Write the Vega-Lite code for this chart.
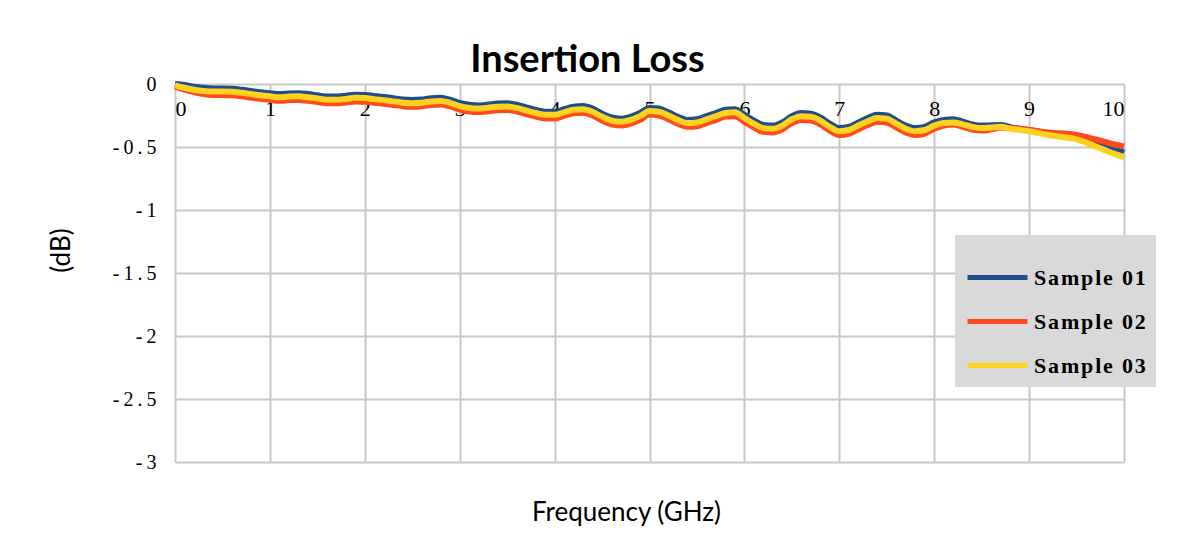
{
"$schema": "https://vega.github.io/schema/vega-lite/v6.json",
"width": 949, "height": 378,
"autosize": {"type": "none"},
"padding": {"left": 175, "top": 84, "right": 55, "bottom": 92},
"background": "white",
"config": {"view": {"stroke": null}},
"title": {"text": "Insertion Loss", "font": "Lato", "fontSize": 38, "fontWeight": "bold", "color": "black", "anchor": "middle", "dx": -62, "offset": -8},
"data": {"values": [
{"s":"Sample 01","f":0,"db":0.000},{"s":"Sample 01","f":0.1,"db":-0.008},{"s":"Sample 01","f":0.2,"db":-0.022},{"s":"Sample 01","f":0.3,"db":-0.030},{"s":"Sample 01","f":0.4,"db":-0.035},{"s":"Sample 01","f":0.5,"db":-0.035},{"s":"Sample 01","f":0.6,"db":-0.037},{"s":"Sample 01","f":0.7,"db":-0.045},{"s":"Sample 01","f":0.8,"db":-0.055},{"s":"Sample 01","f":0.9,"db":-0.065},
{"s":"Sample 01","f":1.0,"db":-0.073},{"s":"Sample 01","f":1.1,"db":-0.080},{"s":"Sample 01","f":1.2,"db":-0.075},{"s":"Sample 01","f":1.3,"db":-0.073},{"s":"Sample 01","f":1.4,"db":-0.080},{"s":"Sample 01","f":1.5,"db":-0.090},{"s":"Sample 01","f":1.6,"db":-0.100},{"s":"Sample 01","f":1.7,"db":-0.100},{"s":"Sample 01","f":1.8,"db":-0.093},{"s":"Sample 01","f":1.9,"db":-0.085},
{"s":"Sample 01","f":2.0,"db":-0.087},{"s":"Sample 01","f":2.1,"db":-0.095},{"s":"Sample 01","f":2.2,"db":-0.103},{"s":"Sample 01","f":2.3,"db":-0.113},{"s":"Sample 01","f":2.4,"db":-0.123},{"s":"Sample 01","f":2.5,"db":-0.127},{"s":"Sample 01","f":2.6,"db":-0.123},{"s":"Sample 01","f":2.7,"db":-0.113},{"s":"Sample 01","f":2.8,"db":-0.110},{"s":"Sample 01","f":2.9,"db":-0.125},
{"s":"Sample 01","f":3.0,"db":-0.150},{"s":"Sample 01","f":3.1,"db":-0.165},{"s":"Sample 01","f":3.2,"db":-0.170},{"s":"Sample 01","f":3.3,"db":-0.163},{"s":"Sample 01","f":3.4,"db":-0.155},{"s":"Sample 01","f":3.5,"db":-0.153},{"s":"Sample 01","f":3.6,"db":-0.165},{"s":"Sample 01","f":3.7,"db":-0.185},{"s":"Sample 01","f":3.8,"db":-0.205},{"s":"Sample 01","f":3.9,"db":-0.220},
{"s":"Sample 01","f":4.0,"db":-0.220},{"s":"Sample 01","f":4.1,"db":-0.200},{"s":"Sample 01","f":4.2,"db":-0.180},{"s":"Sample 01","f":4.3,"db":-0.175},{"s":"Sample 01","f":4.4,"db":-0.195},{"s":"Sample 01","f":4.5,"db":-0.235},{"s":"Sample 01","f":4.6,"db":-0.265},{"s":"Sample 01","f":4.7,"db":-0.275},{"s":"Sample 01","f":4.8,"db":-0.260},{"s":"Sample 01","f":4.9,"db":-0.230},
{"s":"Sample 01","f":5.0,"db":-0.190},{"s":"Sample 01","f":5.1,"db":-0.195},{"s":"Sample 01","f":5.2,"db":-0.225},{"s":"Sample 01","f":5.3,"db":-0.260},{"s":"Sample 01","f":5.4,"db":-0.285},{"s":"Sample 01","f":5.5,"db":-0.280},{"s":"Sample 01","f":5.6,"db":-0.255},{"s":"Sample 01","f":5.7,"db":-0.230},{"s":"Sample 01","f":5.8,"db":-0.205},{"s":"Sample 01","f":5.9,"db":-0.200},
{"s":"Sample 01","f":6.0,"db":-0.245},{"s":"Sample 01","f":6.1,"db":-0.290},{"s":"Sample 01","f":6.2,"db":-0.325},{"s":"Sample 01","f":6.3,"db":-0.330},{"s":"Sample 01","f":6.4,"db":-0.305},{"s":"Sample 01","f":6.5,"db":-0.255},{"s":"Sample 01","f":6.6,"db":-0.230},{"s":"Sample 01","f":6.7,"db":-0.235},{"s":"Sample 01","f":6.8,"db":-0.265},{"s":"Sample 01","f":6.9,"db":-0.315},
{"s":"Sample 01","f":7.0,"db":-0.350},{"s":"Sample 01","f":7.1,"db":-0.340},{"s":"Sample 01","f":7.2,"db":-0.305},{"s":"Sample 01","f":7.3,"db":-0.270},{"s":"Sample 01","f":7.4,"db":-0.245},{"s":"Sample 01","f":7.5,"db":-0.250},{"s":"Sample 01","f":7.6,"db":-0.290},{"s":"Sample 01","f":7.7,"db":-0.330},{"s":"Sample 01","f":7.8,"db":-0.350},{"s":"Sample 01","f":7.9,"db":-0.340},
{"s":"Sample 01","f":8.0,"db":-0.305},{"s":"Sample 01","f":8.1,"db":-0.285},{"s":"Sample 01","f":8.2,"db":-0.280},{"s":"Sample 01","f":8.3,"db":-0.298},{"s":"Sample 01","f":8.4,"db":-0.320},{"s":"Sample 01","f":8.5,"db":-0.330},{"s":"Sample 01","f":8.6,"db":-0.328},{"s":"Sample 01","f":8.7,"db":-0.325},{"s":"Sample 01","f":8.8,"db":-0.342},{"s":"Sample 01","f":8.9,"db":-0.355},
{"s":"Sample 01","f":9.0,"db":-0.365},{"s":"Sample 01","f":9.1,"db":-0.378},{"s":"Sample 01","f":9.2,"db":-0.392},{"s":"Sample 01","f":9.3,"db":-0.400},{"s":"Sample 01","f":9.4,"db":-0.410},{"s":"Sample 01","f":9.5,"db":-0.425},{"s":"Sample 01","f":9.6,"db":-0.445},{"s":"Sample 01","f":9.7,"db":-0.470},{"s":"Sample 01","f":9.8,"db":-0.495},{"s":"Sample 01","f":9.9,"db":-0.520},{"s":"Sample 01","f":10.0,"db":-0.545},
{"s":"Sample 02","f":0,"db":-0.020},{"s":"Sample 02","f":0.1,"db":-0.045},{"s":"Sample 02","f":0.2,"db":-0.065},{"s":"Sample 02","f":0.3,"db":-0.080},{"s":"Sample 02","f":0.4,"db":-0.087},{"s":"Sample 02","f":0.5,"db":-0.088},{"s":"Sample 02","f":0.6,"db":-0.090},{"s":"Sample 02","f":0.7,"db":-0.098},{"s":"Sample 02","f":0.8,"db":-0.108},{"s":"Sample 02","f":0.9,"db":-0.118},
{"s":"Sample 02","f":1.0,"db":-0.126},{"s":"Sample 02","f":1.1,"db":-0.133},{"s":"Sample 02","f":1.2,"db":-0.128},{"s":"Sample 02","f":1.3,"db":-0.126},{"s":"Sample 02","f":1.4,"db":-0.133},{"s":"Sample 02","f":1.5,"db":-0.143},{"s":"Sample 02","f":1.6,"db":-0.153},{"s":"Sample 02","f":1.7,"db":-0.153},{"s":"Sample 02","f":1.8,"db":-0.146},{"s":"Sample 02","f":1.9,"db":-0.138},
{"s":"Sample 02","f":2.0,"db":-0.140},{"s":"Sample 02","f":2.1,"db":-0.148},{"s":"Sample 02","f":2.2,"db":-0.156},{"s":"Sample 02","f":2.3,"db":-0.166},{"s":"Sample 02","f":2.4,"db":-0.176},{"s":"Sample 02","f":2.5,"db":-0.180},{"s":"Sample 02","f":2.6,"db":-0.176},{"s":"Sample 02","f":2.7,"db":-0.166},{"s":"Sample 02","f":2.8,"db":-0.163},{"s":"Sample 02","f":2.9,"db":-0.178},
{"s":"Sample 02","f":3.0,"db":-0.203},{"s":"Sample 02","f":3.1,"db":-0.218},{"s":"Sample 02","f":3.2,"db":-0.223},{"s":"Sample 02","f":3.3,"db":-0.216},{"s":"Sample 02","f":3.4,"db":-0.208},{"s":"Sample 02","f":3.5,"db":-0.206},{"s":"Sample 02","f":3.6,"db":-0.218},{"s":"Sample 02","f":3.7,"db":-0.238},{"s":"Sample 02","f":3.8,"db":-0.258},{"s":"Sample 02","f":3.9,"db":-0.273},
{"s":"Sample 02","f":4.0,"db":-0.273},{"s":"Sample 02","f":4.1,"db":-0.253},{"s":"Sample 02","f":4.2,"db":-0.233},{"s":"Sample 02","f":4.3,"db":-0.228},{"s":"Sample 02","f":4.4,"db":-0.250},{"s":"Sample 02","f":4.5,"db":-0.290},{"s":"Sample 02","f":4.6,"db":-0.320},{"s":"Sample 02","f":4.7,"db":-0.330},{"s":"Sample 02","f":4.8,"db":-0.315},{"s":"Sample 02","f":4.9,"db":-0.285},
{"s":"Sample 02","f":5.0,"db":-0.243},{"s":"Sample 02","f":5.1,"db":-0.250},{"s":"Sample 02","f":5.2,"db":-0.280},{"s":"Sample 02","f":5.3,"db":-0.315},{"s":"Sample 02","f":5.4,"db":-0.340},{"s":"Sample 02","f":5.5,"db":-0.335},{"s":"Sample 02","f":5.6,"db":-0.310},{"s":"Sample 02","f":5.7,"db":-0.285},{"s":"Sample 02","f":5.8,"db":-0.258},{"s":"Sample 02","f":5.9,"db":-0.255},
{"s":"Sample 02","f":6.0,"db":-0.300},{"s":"Sample 02","f":6.1,"db":-0.345},{"s":"Sample 02","f":6.2,"db":-0.380},{"s":"Sample 02","f":6.3,"db":-0.385},{"s":"Sample 02","f":6.4,"db":-0.360},{"s":"Sample 02","f":6.5,"db":-0.310},{"s":"Sample 02","f":6.6,"db":-0.285},{"s":"Sample 02","f":6.7,"db":-0.290},{"s":"Sample 02","f":6.8,"db":-0.320},{"s":"Sample 02","f":6.9,"db":-0.370},
{"s":"Sample 02","f":7.0,"db":-0.405},{"s":"Sample 02","f":7.1,"db":-0.395},{"s":"Sample 02","f":7.2,"db":-0.360},{"s":"Sample 02","f":7.3,"db":-0.325},{"s":"Sample 02","f":7.4,"db":-0.300},{"s":"Sample 02","f":7.5,"db":-0.305},{"s":"Sample 02","f":7.6,"db":-0.345},{"s":"Sample 02","f":7.7,"db":-0.385},{"s":"Sample 02","f":7.8,"db":-0.405},{"s":"Sample 02","f":7.9,"db":-0.393},
{"s":"Sample 02","f":8.0,"db":-0.355},{"s":"Sample 02","f":8.1,"db":-0.330},{"s":"Sample 02","f":8.2,"db":-0.322},{"s":"Sample 02","f":8.3,"db":-0.340},{"s":"Sample 02","f":8.4,"db":-0.362},{"s":"Sample 02","f":8.5,"db":-0.370},{"s":"Sample 02","f":8.6,"db":-0.360},{"s":"Sample 02","f":8.7,"db":-0.345},{"s":"Sample 02","f":8.8,"db":-0.350},{"s":"Sample 02","f":8.9,"db":-0.357},
{"s":"Sample 02","f":9.0,"db":-0.365},{"s":"Sample 02","f":9.1,"db":-0.375},{"s":"Sample 02","f":9.2,"db":-0.385},{"s":"Sample 02","f":9.3,"db":-0.390},{"s":"Sample 02","f":9.4,"db":-0.395},{"s":"Sample 02","f":9.5,"db":-0.405},{"s":"Sample 02","f":9.6,"db":-0.420},{"s":"Sample 02","f":9.7,"db":-0.440},{"s":"Sample 02","f":9.8,"db":-0.460},{"s":"Sample 02","f":9.9,"db":-0.480},{"s":"Sample 02","f":10.0,"db":-0.495},
{"s":"Sample 03","f":0,"db":-0.010},{"s":"Sample 03","f":0.1,"db":-0.030},{"s":"Sample 03","f":0.2,"db":-0.045},{"s":"Sample 03","f":0.3,"db":-0.055},{"s":"Sample 03","f":0.4,"db":-0.060},{"s":"Sample 03","f":0.5,"db":-0.060},{"s":"Sample 03","f":0.6,"db":-0.062},{"s":"Sample 03","f":0.7,"db":-0.070},{"s":"Sample 03","f":0.8,"db":-0.080},{"s":"Sample 03","f":0.9,"db":-0.090},
{"s":"Sample 03","f":1.0,"db":-0.098},{"s":"Sample 03","f":1.1,"db":-0.105},{"s":"Sample 03","f":1.2,"db":-0.100},{"s":"Sample 03","f":1.3,"db":-0.098},{"s":"Sample 03","f":1.4,"db":-0.105},{"s":"Sample 03","f":1.5,"db":-0.115},{"s":"Sample 03","f":1.6,"db":-0.125},{"s":"Sample 03","f":1.7,"db":-0.125},{"s":"Sample 03","f":1.8,"db":-0.118},{"s":"Sample 03","f":1.9,"db":-0.110},
{"s":"Sample 03","f":2.0,"db":-0.112},{"s":"Sample 03","f":2.1,"db":-0.120},{"s":"Sample 03","f":2.2,"db":-0.128},{"s":"Sample 03","f":2.3,"db":-0.138},{"s":"Sample 03","f":2.4,"db":-0.148},{"s":"Sample 03","f":2.5,"db":-0.152},{"s":"Sample 03","f":2.6,"db":-0.148},{"s":"Sample 03","f":2.7,"db":-0.138},{"s":"Sample 03","f":2.8,"db":-0.135},{"s":"Sample 03","f":2.9,"db":-0.150},
{"s":"Sample 03","f":3.0,"db":-0.175},{"s":"Sample 03","f":3.1,"db":-0.190},{"s":"Sample 03","f":3.2,"db":-0.195},{"s":"Sample 03","f":3.3,"db":-0.188},{"s":"Sample 03","f":3.4,"db":-0.180},{"s":"Sample 03","f":3.5,"db":-0.178},{"s":"Sample 03","f":3.6,"db":-0.190},{"s":"Sample 03","f":3.7,"db":-0.210},{"s":"Sample 03","f":3.8,"db":-0.230},{"s":"Sample 03","f":3.9,"db":-0.245},
{"s":"Sample 03","f":4.0,"db":-0.245},{"s":"Sample 03","f":4.1,"db":-0.225},{"s":"Sample 03","f":4.2,"db":-0.205},{"s":"Sample 03","f":4.3,"db":-0.200},{"s":"Sample 03","f":4.4,"db":-0.220},{"s":"Sample 03","f":4.5,"db":-0.260},{"s":"Sample 03","f":4.6,"db":-0.290},{"s":"Sample 03","f":4.7,"db":-0.300},{"s":"Sample 03","f":4.8,"db":-0.285},{"s":"Sample 03","f":4.9,"db":-0.255},
{"s":"Sample 03","f":5.0,"db":-0.215},{"s":"Sample 03","f":5.1,"db":-0.220},{"s":"Sample 03","f":5.2,"db":-0.250},{"s":"Sample 03","f":5.3,"db":-0.285},{"s":"Sample 03","f":5.4,"db":-0.310},{"s":"Sample 03","f":5.5,"db":-0.305},{"s":"Sample 03","f":5.6,"db":-0.280},{"s":"Sample 03","f":5.7,"db":-0.255},{"s":"Sample 03","f":5.8,"db":-0.230},{"s":"Sample 03","f":5.9,"db":-0.225},
{"s":"Sample 03","f":6.0,"db":-0.270},{"s":"Sample 03","f":6.1,"db":-0.315},{"s":"Sample 03","f":6.2,"db":-0.350},{"s":"Sample 03","f":6.3,"db":-0.355},{"s":"Sample 03","f":6.4,"db":-0.330},{"s":"Sample 03","f":6.5,"db":-0.280},{"s":"Sample 03","f":6.6,"db":-0.255},{"s":"Sample 03","f":6.7,"db":-0.260},{"s":"Sample 03","f":6.8,"db":-0.290},{"s":"Sample 03","f":6.9,"db":-0.340},
{"s":"Sample 03","f":7.0,"db":-0.375},{"s":"Sample 03","f":7.1,"db":-0.365},{"s":"Sample 03","f":7.2,"db":-0.330},{"s":"Sample 03","f":7.3,"db":-0.295},{"s":"Sample 03","f":7.4,"db":-0.270},{"s":"Sample 03","f":7.5,"db":-0.275},{"s":"Sample 03","f":7.6,"db":-0.315},{"s":"Sample 03","f":7.7,"db":-0.355},{"s":"Sample 03","f":7.8,"db":-0.375},{"s":"Sample 03","f":7.9,"db":-0.365},
{"s":"Sample 03","f":8.0,"db":-0.330},{"s":"Sample 03","f":8.1,"db":-0.310},{"s":"Sample 03","f":8.2,"db":-0.305},{"s":"Sample 03","f":8.3,"db":-0.320},{"s":"Sample 03","f":8.4,"db":-0.340},{"s":"Sample 03","f":8.5,"db":-0.350},{"s":"Sample 03","f":8.6,"db":-0.345},{"s":"Sample 03","f":8.7,"db":-0.340},{"s":"Sample 03","f":8.8,"db":-0.355},{"s":"Sample 03","f":8.9,"db":-0.365},
{"s":"Sample 03","f":9.0,"db":-0.375},{"s":"Sample 03","f":9.1,"db":-0.390},{"s":"Sample 03","f":9.2,"db":-0.405},{"s":"Sample 03","f":9.3,"db":-0.415},{"s":"Sample 03","f":9.4,"db":-0.425},{"s":"Sample 03","f":9.5,"db":-0.440},{"s":"Sample 03","f":9.6,"db":-0.465},{"s":"Sample 03","f":9.7,"db":-0.495},{"s":"Sample 03","f":9.8,"db":-0.525},{"s":"Sample 03","f":9.9,"db":-0.555},{"s":"Sample 03","f":10.0,"db":-0.580}
]},
"mark": {"type": "line", "strokeWidth": 6, "interpolate": "monotone"},
"encoding": {
  "x": {"field": "f", "type": "quantitative",
    "scale": {"domain": [0, 10], "nice": false, "zero": false},
    "axis": {"orient": "bottom", "offset": -378, "values": [0,1,2,3,4,5,6,7,8,9,10],
      "grid": true, "gridColor": "#c8c8c8", "gridWidth": 2, "domain": false, "ticks": false,
      "labelFont": "Liberation Serif", "labelFontSize": 22, "labelColor": "black", "labelPadding": 24, "labelBaseline": "middle",
      "title": "Frequency (GHz)", "titleFont": "Lato", "titleFontSize": 26, "titleFontWeight": "normal", "titleColor": "black", "titleX": 451, "titlePadding": 380}},
  "y": {"field": "db", "type": "quantitative",
    "scale": {"domain": [-3, 0], "nice": false, "zero": false},
    "axis": {"values": [0,-0.5,-1,-1.5,-2,-2.5,-3],
      "grid": true, "gridColor": "#c8c8c8", "gridWidth": 2, "domain": false, "ticks": false,
      "labelFont": "Liberation Serif", "labelFontSize": 20, "labelColor": "black", "labelPadding": 19,
      "labelExpr": "replace(toString(datum.value), regexp('(.)(?!$)', 'g'), '$1\u2009')",
      "title": "(dB)", "titleFont": "Lato", "titleFontSize": 26, "titleFontWeight": "normal", "titleColor": "black", "titleY": 166, "titlePadding": 38}},
  "color": {"field": "s", "type": "nominal",
    "scale": {"domain": ["Sample 01", "Sample 02", "Sample 03"], "range": ["#1f4e8c", "#ff4a1c", "#ffd21f"]},
    "legend": {"title": null, "orient": "none", "legendX": 780, "legendY": 151, "fillColor": "#d9d9d9", "padding": 10,
      "symbolType": "stroke", "symbolStrokeWidth": 5, "symbolSize": 3600, "labelFont": "Liberation Serif", "labelFontWeight": "bold", "labelFontSize": 22, "labelColor": "black", "rowPadding": 0, "labelOffset": 4,
      "labelExpr": "replace(datum.label, regexp('(.)(?!$)', 'g'), '$1\u200a')"}}
}
}
